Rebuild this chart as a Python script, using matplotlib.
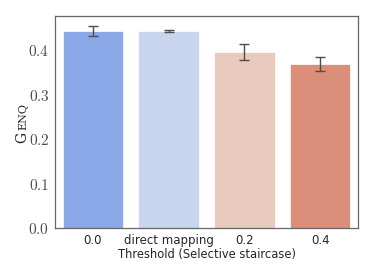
import matplotlib
matplotlib.use("Agg")
import matplotlib.pyplot as plt
import numpy as np

CATEGORIES = ["0.0", "direct mapping", "0.2", "0.4"]
GENQ_MEAN = [0.443, 0.443, 0.395, 0.369]
GENQ_ERR = [0.011, 0.002, 0.018, 0.016]
BAR_COLORS = ["#8aa7e8", "#c8d5ef", "#e9cbbd", "#db8e79"]
Y_TICKS = [0.0, 0.1, 0.2, 0.3, 0.4]

plt.rcParams["mathtext.fontset"] = "cm"
SANS = "DejaVu Sans"


def main() -> None:
    fig = plt.figure(figsize=(3.74, 2.80), dpi=100)
    ax = fig.add_axes([55 / 374, 1 - 228 / 280, 303 / 374, 212.5 / 280])

    x = np.arange(len(CATEGORIES))
    ax.bar(x, GENQ_MEAN, width=0.8, color=BAR_COLORS, edgecolor="white", linewidth=0.5)
    ax.errorbar(x, GENQ_MEAN, yerr=GENQ_ERR, fmt="none", ecolor="0.3",
                elinewidth=1.0, capsize=3.6, capthick=1.0)

    ax.set_xlim(-0.5, 3.5)
    ax.set_ylim(0, 0.478)
    ax.set_xticks(x)
    ax.set_xticklabels(CATEGORIES, family=SANS, fontsize=8.5, color="0.15")
    ax.set_yticks(Y_TICKS)
    ax.set_yticklabels([f"${v:.1f}$" for v in Y_TICKS], fontsize=11, color="0.3")
    ax.tick_params(length=0, pad=4)
    ax.set_xlabel("Threshold (Selective staircase)", family=SANS, fontsize=8.3,
                  labelpad=1, color="0.15")

    for spine in ax.spines.values():
        spine.set_color("0.4")
        spine.set_linewidth(0.9)

    # small caps label "GenQ"
    yx, yy = 26 / 374, 1 - 143 / 280
    t1 = fig.text(yx, yy, "G", rotation=90, rotation_mode="anchor",
                  ha="left", va="baseline", family="serif", fontsize=10, color="0.15")
    fig.canvas.draw()
    bb = t1.get_window_extent()
    fig.text(yx, (bb.y1 + 1.5) / fig.bbox.height, "ENQ", rotation=90, rotation_mode="anchor",
             ha="left", va="baseline", family="serif", fontsize=8, color="0.15")

    fig.savefig("out.png", dpi=100)


if __name__ == "__main__":
    main()
